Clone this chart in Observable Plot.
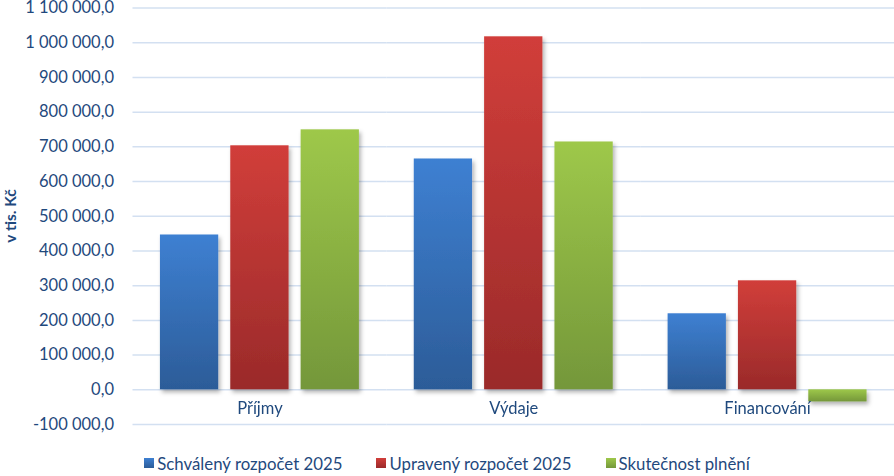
<!DOCTYPE html>
<html><head><meta charset="utf-8">
<script src="https://cdn.jsdelivr.net/npm/d3@7"></script>
<script src="https://cdn.jsdelivr.net/npm/@observablehq/plot@0.6"></script>
<style>
body{margin:0;background:#fff;font-family:Lato,sans-serif;}
#chart{position:relative;width:894px;height:476px;overflow:hidden;}
#chart svg{position:absolute;left:0;top:0;}
.legend{position:absolute;left:0;top:452px;width:894px;height:22px;display:flex;justify-content:center;align-items:center;gap:34px;font-size:16.8px;color:#1f497d;}
.legend .item{display:flex;align-items:center;white-space:nowrap;}
.legend .sw{display:inline-block;width:10px;height:10px;margin-right:3px;}
</style></head><body><div id="chart"></div>
<script>
const categories = ["Příjmy", "Výdaje", "Financování"];
const series = ["Schválený rozpočet 2025", "Upravený rozpočet 2025", "Skutečnost plnění"];
const schvaleny = [446000, 665000, 219000];
const upraveny = [703000, 1017000, 314000];
const skutecnost = [749000, 714000, -35000];
const yTicks = [-100000, 0, 100000, 200000, 300000, 400000, 500000, 600000, 700000, 800000, 900000, 1000000, 1100000];
const yLabel = "v tis. Kč";
const seriesTop = ["#3e80d2", "#d13e3a", "#9ec84a"];
const seriesBottom = ["#2c5c98", "#9a2a2a", "#74973a"];

const valuesBySeries = [schvaleny, upraveny, skutecnost];
const data = categories.flatMap((c, i) => series.map((s, j) => ({category: c, series: s, value: valuesBySeries[j][i]})));
const gradIds = series.map((s, j) => "grad" + j);

const fmt = d3.formatLocale({decimal: ",", thousands: "\u00a0", grouping: [3], currency: ["", ""], minus: "-"}).format(",.1f");
const textColor = "#1f497d";

const svg = Plot.plot({
  width: 894, height: 440,
  marginTop: 7.5, marginBottom: 16, marginLeft: 132.5, marginRight: 0,
  style: {fontFamily: "Lato, sans-serif", fontSize: "16.5px", color: textColor, background: "white", overflow: "visible"},
  fx: {domain: categories, padding: 0, round: false, axis: null},
  x: {domain: series, paddingInner: 0.1714, paddingOuter: 0.39, round: false, axis: null},
  y: {domain: [-100000, 1100000], axis: null},
  color: {domain: series, range: gradIds.map(id => `url(#${id})`)},
  marks: [
    Plot.gridY(yTicks, {stroke: "#d3e0f1", strokeOpacity: 1, strokeWidth: 1.5}),
    Plot.axisY(yTicks, {tickSize: 0, tickPadding: 19, tickFormat: fmt, label: null, fill: textColor}),
    Plot.barY(data, {fx: "category", x: "series", y: "value", fill: "series", inset: 0}),
    Plot.text(categories, {fx: d => d, text: d => d, frameAnchor: "bottom", dy: -11, fill: textColor})
  ]
});

const s = d3.select(svg);
const defs = s.insert("defs", ":first-child");
gradIds.forEach((id, j) => {
  const g = defs.append("linearGradient").attr("id", id).attr("x1", 0).attr("y1", 0).attr("x2", 0).attr("y2", 1);
  g.append("stop").attr("offset", "0%").attr("stop-color", seriesTop[j]);
  g.append("stop").attr("offset", "100%").attr("stop-color", seriesBottom[j]);
});
const f = defs.append("filter").attr("id", "shadow").attr("x", "-20%").attr("y", "-20%").attr("width", "150%").attr("height", "150%");
f.append("feDropShadow").attr("dx", 2).attr("dy", 3).attr("stdDeviation", 2).attr("flood-color", "#000").attr("flood-opacity", 0.3);
s.selectAll('g[aria-label="bar"]').attr("filter", "url(#shadow)");

s.append("text")
  .attr("transform", "translate(16,216) rotate(-90)")
  .attr("text-anchor", "middle")
  .attr("font-weight", "bold")
  .attr("font-size", "15.5px")
  .attr("fill", textColor)
  .text(yLabel);

const chart = document.getElementById("chart");
chart.appendChild(svg);
const legend = document.createElement("div");
legend.className = "legend";
series.forEach((name, j) => {
  const item = document.createElement("div");
  item.className = "item";
  const sw = document.createElement("span");
  sw.className = "sw";
  sw.style.background = `linear-gradient(${seriesTop[j]}, ${seriesBottom[j]})`;
  item.appendChild(sw);
  item.appendChild(document.createTextNode(name));
  legend.appendChild(item);
});
chart.appendChild(legend);
</script>
</body></html>
